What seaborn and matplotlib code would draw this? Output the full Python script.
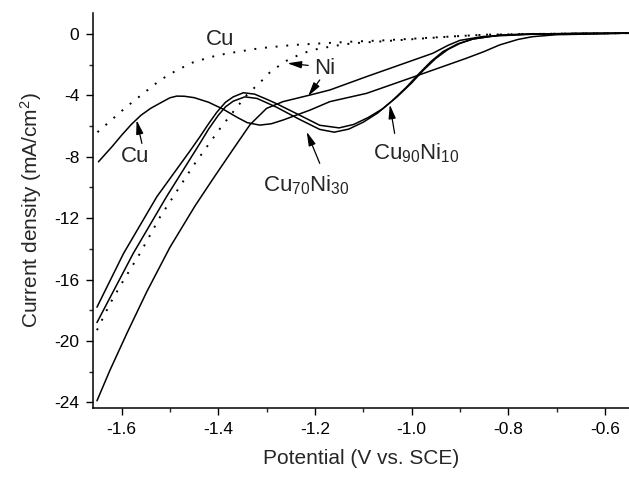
import matplotlib
matplotlib.use("Agg")
import matplotlib.pyplot as plt
import seaborn as sns
import pandas as pd

# ---- data ----
cu_dot_v = [-1.650, -1.590, -1.520, -1.485, -1.452, -1.415, -1.383, -1.314, -1.245, -1.122, -1.060, -0.920, -0.850, -0.750, -0.650, -0.550]
cu_dot_j = [-6.40, -4.75, -3.00, -2.35, -1.85, -1.50, -1.28, -0.93, -0.72, -0.50, -0.42, -0.17, -0.05, 0.00, 0.03, 0.05]

ni_dot_v = [-1.651, -1.624, -1.596, -1.562, -1.520, -1.493, -1.452, -1.421, -1.396, -1.369, -1.341, -1.307,
            -1.292, -1.259, -1.230, -1.204, -1.160, -1.122, -1.060, -0.920, -0.850, -0.750, -0.650, -0.550]
ni_dot_j = [-19.30, -17.57, -16.05, -14.30, -11.90, -10.60, -8.60, -7.24, -6.15, -5.07, -3.98, -2.96,
            -2.46, -1.75, -1.32, -1.04, -0.78, -0.61, -0.48, -0.17, -0.05, 0.00, 0.03, 0.05]

cu_v = [-1.648, -1.620, -1.600, -1.580, -1.560, -1.540, -1.520, -1.500, -1.486, -1.470, -1.450, -1.420,
        -1.390, -1.360, -1.340, -1.314, -1.290, -1.266, -1.210, -1.169, -1.093, -1.004, -0.887, -0.850,
        -0.818, -0.780, -0.750, -0.700, -0.620, -0.550]
cu_j = [-8.33, -7.35, -6.60, -5.90, -5.30, -4.85, -4.50, -4.16, -4.05, -4.06, -4.15, -4.45,
        -4.90, -5.45, -5.78, -5.94, -5.85, -5.61, -4.96, -4.41, -3.87, -2.89, -1.59, -1.15,
        -0.72, -0.36, -0.18, -0.05, 0.00, 0.05]

ni_v = [-1.651, -1.624, -1.589, -1.548, -1.500, -1.448, -1.410, -1.369, -1.334, -1.300, -1.266, -1.210,
        -1.169, -1.093, -0.956, -0.925, -0.900, -0.853, -0.750, -0.650, -0.550]
ni_j = [-23.90, -21.90, -19.50, -16.80, -13.90, -11.20, -9.40, -7.50, -5.90, -4.85, -4.41, -3.98,
        -3.65, -2.78, -1.26, -0.75, -0.42, -0.17, -0.02, 0.03, 0.05]

cu90_v = [-1.651, -1.596, -1.527, -1.458, -1.438, -1.420, -1.403, -1.385, -1.369, -1.348, -1.325, -1.300,
          -1.279, -1.231, -1.190, -1.150, -1.120, -1.090, -1.060, -1.030, -1.000, -0.975, -0.950, -0.925,
          -0.900, -0.873, -0.818, -0.750, -0.650, -0.550]
cu90_j = [-17.80, -14.30, -10.60, -7.60, -6.70, -5.85, -5.10, -4.45, -4.10, -3.83, -3.92, -4.25,
          -4.55, -5.30, -5.95, -6.12, -5.90, -5.45, -4.88, -4.10, -3.20, -2.35, -1.60, -1.02,
          -0.62, -0.33, -0.08, 0.00, 0.03, 0.05]

cu70_v = [-1.651, -1.576, -1.507, -1.438, -1.420, -1.400, -1.385, -1.369, -1.345, -1.320, -1.300, -1.279,
          -1.231, -1.190, -1.160, -1.130, -1.100, -1.070, -1.040, -1.010, -0.985, -0.960, -0.935, -0.905,
          -0.873, -0.818, -0.750, -0.650, -0.550]
cu70_j = [-18.80, -14.30, -10.60, -7.13, -6.20, -5.30, -4.75, -4.38, -4.10, -4.20, -4.48, -4.78,
          -5.58, -6.22, -6.40, -6.20, -5.75, -5.15, -4.35, -3.45, -2.60, -1.80, -1.15, -0.65,
          -0.33, -0.08, 0.00, 0.03, 0.05]

x_ticks = [-1.6, -1.4, -1.2, -1.0, -0.8, -0.6]
x_ticklabels = ["-1.6", "-1.4", "-1.2", "-1.0", "-0.8", "-0.6"]
y_ticks = [0, -4, -8, -12, -16, -20, -24]
y_ticklabels = ["0", "-4", "-8", "-12", "-16", "-20", "-24"]

# ---- style ----
sns.set_theme(style="ticks")
plt.rcParams["font.family"] = ["Liberation Sans", "DejaVu Sans"]
plt.rcParams["mathtext.fontset"] = "custom"
plt.rcParams["mathtext.rm"] = "Liberation Sans"
plt.rcParams["mathtext.it"] = "Liberation Sans:italic"
plt.rcParams["mathtext.bf"] = "Liberation Sans:bold"
plt.rcParams["axes.unicode_minus"] = False

fig = plt.figure(figsize=(6.29, 4.78), dpi=100)
ax = fig.add_axes([0.148, 0.1464, 0.852, 0.8266])

curves = [
    ("Cu dotted", cu_dot_v, cu_dot_j, (0, (1, 4.5))),
    ("Ni dotted", ni_dot_v, ni_dot_j, (0, (1, 4.5))),
    ("Cu", cu_v, cu_j, "-"),
    ("Ni", ni_v, ni_j, "-"),
    ("Cu90Ni10", cu90_v, cu90_j, "-"),
    ("Cu70Ni30", cu70_v, cu70_j, "-"),
]
for name, v, j, ls in curves:
    df = pd.DataFrame({"V": v, "J": j})
    sns.lineplot(data=df, x="V", y="J", sort=False, color="black",
                 linestyle=ls, linewidth=1.1 if ls == "-" else 1.4, ax=ax)

ax.set_xlim(-1.659, -0.55)
ax.set_ylim(-24.37, 1.37)
ax.set_xticks(x_ticks)
ax.set_xticklabels(x_ticklabels)
ax.set_yticks(y_ticks)
ax.set_yticklabels(y_ticklabels)
ax.set_xticks([-1.5, -1.3, -1.1, -0.9, -0.7], minor=True)
ax.set_yticks([-2, -6, -10, -14, -18, -22], minor=True)
ax.tick_params(axis="both", which="major", direction="out", length=5, width=1,
               labelsize=12.5, colors="black", pad=5)
ax.tick_params(axis="both", which="minor", direction="out", length=3, width=1)
for s in ["top", "right"]:
    ax.spines[s].set_visible(False)
for s in ["left", "bottom"]:
    ax.spines[s].set_linewidth(1.1)
    ax.spines[s].set_color("black")

ax.set_xlabel("Potential (V vs. SCE)", fontsize=15, labelpad=9)
ax.set_ylabel("Current density (mA/cm$^2$)", fontsize=15, labelpad=7)

arrow = dict(arrowstyle="-|>,head_length=0.7,head_width=0.18", color="black", lw=0.9,
             shrinkA=0, shrinkB=0)
fs = 16
ax.text(-1.396, -0.39, "Cu", fontsize=fs, ha="center", va="center")
ax.annotate("", xy=(-1.257, -1.91), xytext=(-1.214, -2.05), arrowprops=arrow)
ax.text(-1.18, -2.24, "Ni", fontsize=fs, ha="center", va="center")
ax.annotate("", xy=(-1.214, -4.05), xytext=(-1.19, -3.0), arrowprops=arrow)
ax.text(-1.572, -8.0, "Cu", fontsize=fs, ha="center", va="center")
ax.annotate("", xy=(-1.569, -5.61), xytext=(-1.558, -7.13), arrowprops=arrow)
ax.text(-1.217, -9.85, r"Cu$_{70}$Ni$_{30}$", fontsize=fs, ha="center", va="center")
ax.annotate("", xy=(-1.217, -6.37), xytext=(-1.19, -8.43), arrowprops=arrow)
ax.text(-0.99, -7.78, r"Cu$_{90}$Ni$_{10}$", fontsize=fs, ha="center", va="center")
ax.annotate("", xy=(-1.045, -4.6), xytext=(-1.035, -6.48), arrowprops=arrow)

fig.savefig("out.png", dpi=100)
